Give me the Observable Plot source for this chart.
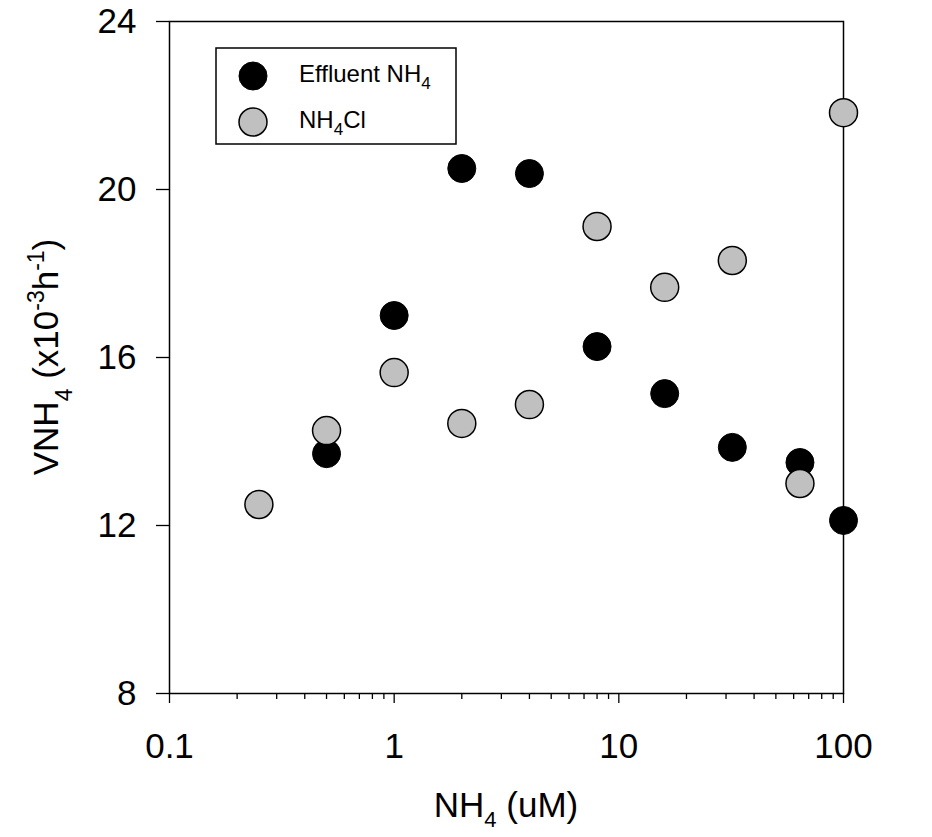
<!DOCTYPE html>
<html>
<head>
<meta charset="utf-8">
<script src="https://cdn.jsdelivr.net/npm/d3@7"></script>
<script src="https://cdn.jsdelivr.net/npm/@observablehq/plot@0.6"></script>
<style>
  html, body { margin: 0; padding: 0; background: #fff; }
  #chart { width: 932px; height: 837px; }
</style>
</head>
<body>
<div id="chart"></div>
<script>
// ---- Data ----
const effluentX = [0.5, 1, 2, 4, 8, 16, 32, 64, 100];
const effluentY = [13.71, 17.0, 20.5, 20.38, 16.26, 15.14, 13.86, 13.5, 12.12];

const nh4clX = [0.25, 0.5, 1, 2, 4, 8, 16, 32, 64, 100];
const nh4clY = [12.5, 14.26, 15.64, 14.43, 14.88, 19.12, 17.67, 18.31, 13.0, 21.83];

const xMajorTicks = [0.1, 1, 10, 100];
const xMinorTicks = [0.2,0.3,0.4,0.5,0.6,0.7,0.8,0.9, 2,3,4,5,6,7,8,9, 20,30,40,50,60,70,80,90];
const yTicks = [8, 12, 16, 20, 24];

const seriesNames = ["Effluent NH4", "NH4Cl"];

// ---- Tables built from the arrays ----
const effluent = effluentX.map((x, i) => ({x, y: effluentY[i]}));
const nh4cl = nh4clX.map((x, i) => ({x, y: nh4clY[i]}));

const W = 932, H = 837;
const font = "'Liberation Sans', Arial, sans-serif";

const plot = Plot.plot({
  width: W,
  height: H,
  marginLeft: 169,
  marginRight: 89,
  marginTop: 21,
  marginBottom: 144,
  style: {fontFamily: font, fontSize: "35px", color: "black", background: "white"},
  x: {type: "log", domain: [0.1, 100]},
  y: {domain: [8, 24]},
  marks: [
    Plot.axisX({ticks: xMinorTicks, tickSize: 6, tickFormat: () => "", label: null, strokeWidth: 1.3}),
    Plot.axisX({ticks: xMajorTicks, tickSize: 10, tickPadding: 30, fontSize: 35,
                tickFormat: d => String(d), label: null, strokeWidth: 1.3}),
    Plot.axisY({ticks: yTicks, tickSize: 13, tickPadding: 20, fontSize: 35,
                tickFormat: d => String(d), label: null, strokeWidth: 1.3}),
    Plot.frame({stroke: "black", strokeWidth: 1.5}),
    Plot.dot(effluent, {x: "x", y: "y", r: 14, fill: "black", stroke: "black", strokeWidth: 1}),
    Plot.dot(nh4cl, {x: "x", y: "y", r: 14, fill: "#c0c0c0", stroke: "black", strokeWidth: 1.5})
  ]
});

document.getElementById("chart").appendChild(plot);

const svg = d3.select(plot);

// X axis title: NH4 (uM)
const xt = svg.append("text")
  .attr("x", (169 + (W - 89)) / 2)
  .attr("y", 817)
  .attr("text-anchor", "middle")
  .attr("font-family", font)
  .attr("font-size", 35)
  .attr("fill", "black");
xt.append("tspan").text("NH");
xt.append("tspan").attr("font-size", 22).attr("dy", 10).text("4");
xt.append("tspan").attr("dy", -10).text(" (uM)");

// Y axis title: VNH4 (x10-3h-1)
const yt = svg.append("text")
  .attr("transform", `translate(58,${(21 + (H - 144)) / 2}) rotate(-90)`)
  .attr("text-anchor", "middle")
  .attr("font-family", font)
  .attr("font-size", 35)
  .attr("fill", "black");
yt.append("tspan").text("VNH");
yt.append("tspan").attr("font-size", 23).attr("dy", 14).text("4");
yt.append("tspan").attr("dy", -14).text(" (x10");
yt.append("tspan").attr("font-size", 23).attr("dy", -14).text("-3");
yt.append("tspan").attr("dy", 14).text("h");
yt.append("tspan").attr("font-size", 23).attr("dy", -14).text("-1");
yt.append("tspan").attr("dy", 14).text(")");

// Legend box
const lg = svg.append("g");
lg.append("rect")
  .attr("x", 216).attr("y", 48).attr("width", 240).attr("height", 96)
  .attr("fill", "white").attr("stroke", "black").attr("stroke-width", 1.5);

const legendItems = [
  {name: seriesNames[0], fill: "black", sw: 1, cy: 76},
  {name: seriesNames[1], fill: "#c0c0c0", sw: 1.5, cy: 122}
];
legendItems.forEach(d => {
  lg.append("circle").attr("cx", 253).attr("cy", d.cy).attr("r", 14)
    .attr("fill", d.fill).attr("stroke", "black").attr("stroke-width", d.sw);
});
// Effluent NH4
const t1 = lg.append("text").attr("x", 299).attr("y", 82).attr("text-anchor", "start")
  .attr("font-family", font).attr("font-size", 24).attr("fill", "black");
t1.append("tspan").text("Effluent NH");
t1.append("tspan").attr("font-size", 17).attr("dy", 7).text("4");
// NH4Cl
const t2 = lg.append("text").attr("x", 299).attr("y", 128).attr("text-anchor", "start")
  .attr("font-family", font).attr("font-size", 24).attr("fill", "black");
t2.append("tspan").text("NH");
t2.append("tspan").attr("font-size", 17).attr("dy", 7).text("4");
t2.append("tspan").attr("dy", -7).text("Cl");
</script>
</body>
</html>
